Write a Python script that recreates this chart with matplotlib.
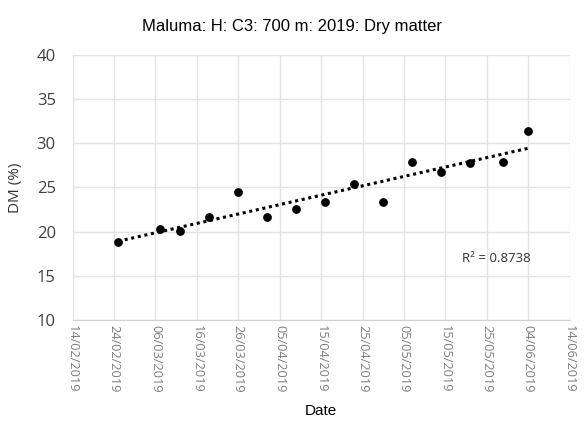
import numpy as np
import pandas as pd
import matplotlib
matplotlib.use("Agg")
import matplotlib.pyplot as plt
import matplotlib.dates as mdates

# Valores
dates = ["2019-02-25", "2019-03-07", "2019-03-12", "2019-03-19", "2019-03-26",
         "2019-04-02", "2019-04-09", "2019-04-16", "2019-04-23", "2019-04-30",
         "2019-05-07", "2019-05-14", "2019-05-21", "2019-05-29", "2019-06-04"]
dm = [18.8, 20.3, 20.1, 21.7, 24.5, 21.7, 22.6, 23.4, 25.4, 23.4,
      27.9, 26.7, 27.8, 27.9, 31.4]
r2_text = "R² = 0.8738"

x = pd.to_datetime(dates)
xn = mdates.date2num(x)

# Linea de tendencia lineal
slope, intercept = np.polyfit(xn, dm, 1)
trend = slope * xn + intercept

fig = plt.figure(figsize=(5.85, 4.26), dpi=100)
ax = fig.add_axes([0.124, 0.249, 0.850, 0.622])

ax.scatter(x, dm, s=28, color="black", zorder=3)
ax.plot(x, trend, color="black", linestyle=(0, (1, 1.2)), linewidth=2.2, zorder=2)

start = pd.Timestamp("2019-02-14")
end = pd.Timestamp("2019-06-14")
ticks = pd.date_range(start, end, freq="10D")
ax.set_xlim(start, end)
ax.set_xticks(ticks)
ax.set_xticklabels([t.strftime("%d/%m/%Y") for t in ticks], rotation=-90,
                   fontsize=9.2, color="#7f7f7f", family="Open Sans")
ax.set_ylim(10, 40)
ax.set_yticks(range(10, 41, 5))
ax.tick_params(axis="y", labelsize=12, colors="#404040", length=0, pad=12)
ax.tick_params(axis="x", length=0, pad=4)
for lbl in ax.get_yticklabels():
    lbl.set_family("Open Sans")

ax.grid(True, color="#e3e3e3", linewidth=1)
for s in ax.spines.values():
    s.set_visible(False)
ax.spines["bottom"].set_visible(True)
ax.spines["bottom"].set_color("#d0d0d0")

ax.text(pd.Timestamp("2019-05-19"), 16.9, r2_text, fontsize=9.5, color="#333333",
        family="Open Sans", va="center")

ax.set_ylabel("DM (%)", fontsize=11, family="Open Sans", color="#333333", labelpad=10)
ax.set_xlabel("Date", fontsize=11, family="Liberation Sans", labelpad=8)
fig.suptitle("Maluma: H: C3: 700 m: 2019: Dry matter", fontsize=12,
             family="Liberation Sans", y=0.955)

plt.savefig("out.png", dpi=100)
